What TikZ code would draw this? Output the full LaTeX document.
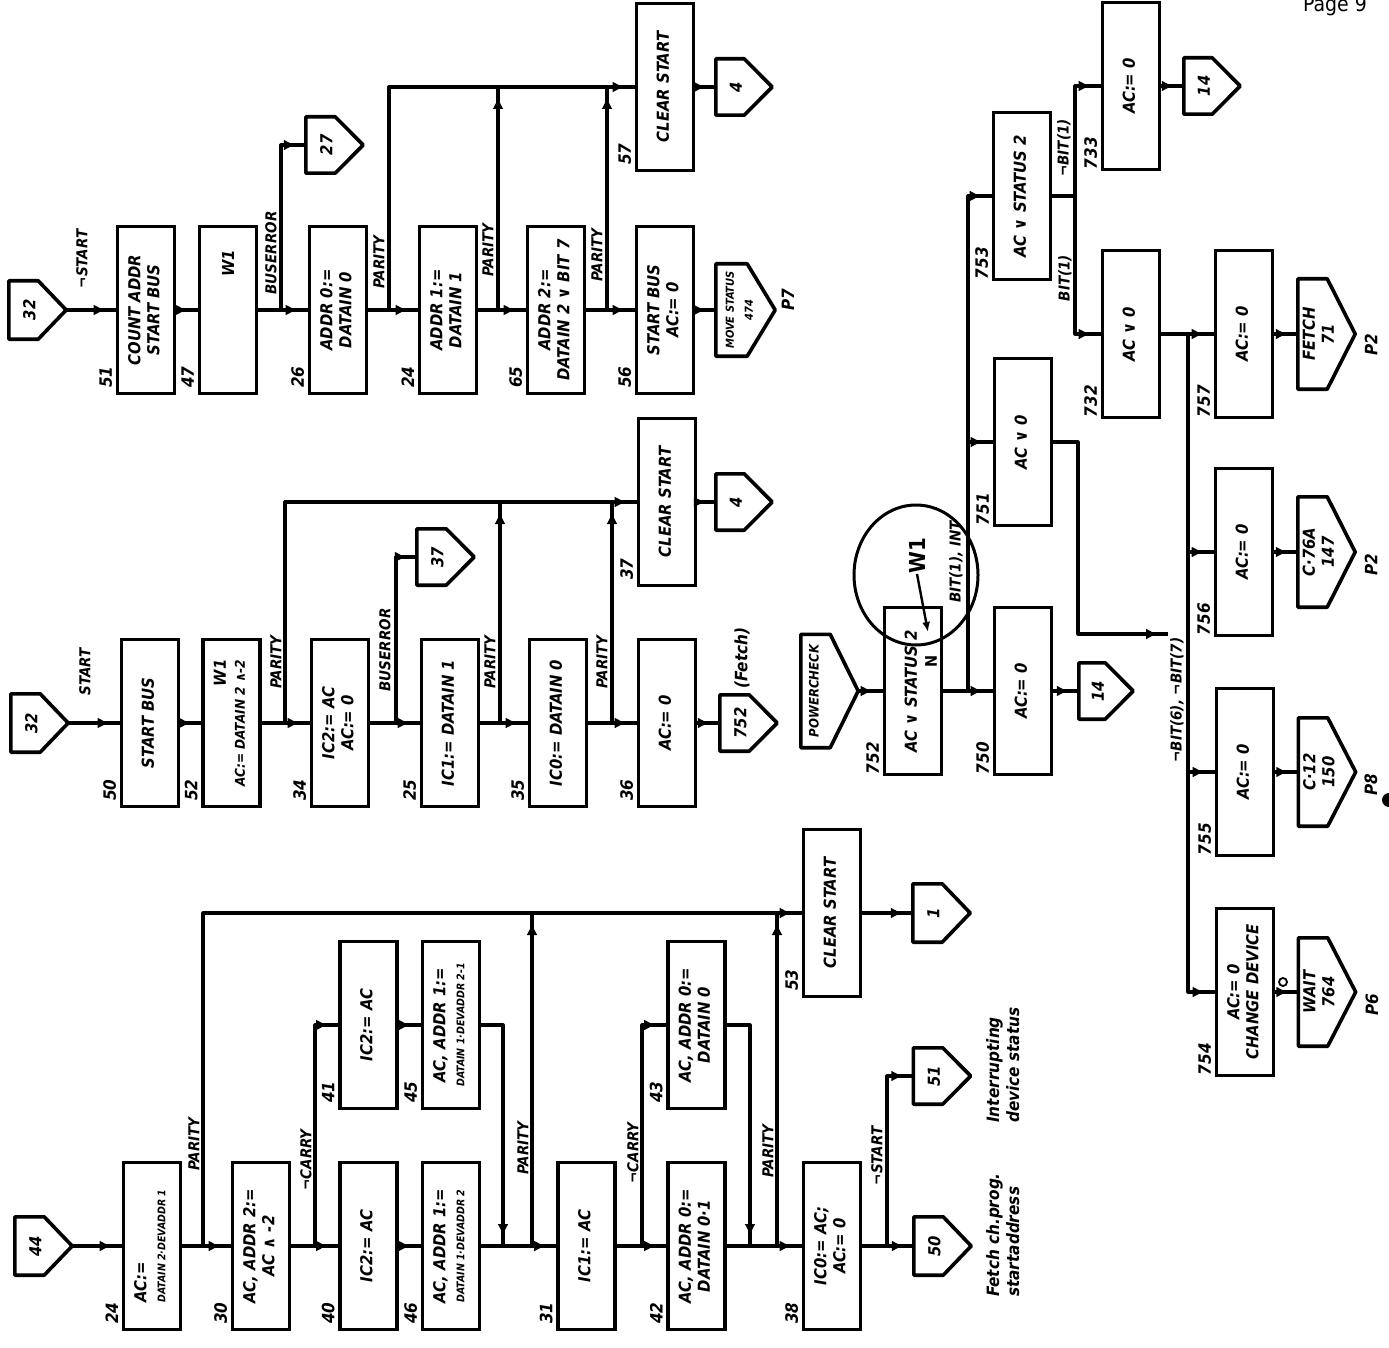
\documentclass[tikz,border=0pt]{standalone}
\usepackage{graphicx}
\usepackage{fontspec}
\setmainfont{DejaVu Sans Condensed}
\usetikzlibrary{arrows.meta,decorations.markings}
\newcommand{\boxfont}{\fontsize{16.5}{19}\selectfont\bfseries\itshape}
\newcommand{\numfont}{\fontsize{17}{19}\selectfont\bfseries\itshape}
\newcommand{\lblfont}{\fontsize{15}{17}\selectfont\bfseries\itshape}
\newcommand{\notefont}{\fontsize{17}{20}\selectfont\bfseries\itshape}
\newcommand{\tinyfont}{\fontsize{10.5}{12}\selectfont}
\newcommand{\rtext}[1]{\rotatebox{90}{\begin{tabular}{@{}c@{}}#1\end{tabular}}}
\tikzset{
  ln/.style={line width=3.2pt, line join=round},
  boxline/.style={line width=3.6pt, line join=round},
  blk/.style={draw, line width=3.6pt, rectangle, inner sep=0pt, minimum width=57pt, minimum height=167pt, font=\boxfont},
  pentbase/.style={inner sep=0pt, draw=none, rectangle},
  flow/.style={ln, postaction={decorate}, decoration={markings, mark=at position -10pt with {\arrow{Latex[length=12pt,width=11pt]}}}},
  num/.style={font=\numfont, inner sep=0pt},
  lbl/.style={font=\lblfont, inner sep=0pt},
  note/.style={font=\notefont, inner sep=0pt},
}
\newcommand{\pent}[6]{%
  \node[pentbase, minimum width=#4pt, minimum height=#5pt] (#1) at (#2,#3) {};
  \draw[boxline] (#1.north west) -- ([xshift=-28pt]#1.north east) -- (#1.east) -- ([xshift=-28pt]#1.south east) -- (#1.south west) -- cycle;
  \node[font=\boxfont, inner sep=0pt] at ([xshift=-6pt]#1.center) {\rtext{#6}};
}
\newcommand{\boxlab}[2]{\node[num] at ([xshift=-10pt,yshift=18pt]#1.south west) {\rotatebox{90}{#2}};}
\begin{document}
\begin{tikzpicture}[x=1pt,y=-1pt]
\useasboundingbox (0,0) rectangle (1389,1348);
\fill[white] (0,0) rectangle (1389,1348);

%% ---------------- Section 1 ----------------
\pent{p32a}{37.5}{310}{57}{58}{32}
\node[blk] (n51) at (146,310) {\rtext{COUNT ADDR\\START BUS}};
\node[blk] (n47) at (228,310) {\rotatebox{90}{\parbox{120pt}{\raggedleft W1}}};
\pent{p27}{334.5}{145}{57}{56}{27}
\node[blk] (n26) at (338,310) {\rtext{ADDR 0:=\\DATAIN 0}};
\node[blk] (n24) at (448,310) {\rtext{ADDR 1:=\\DATAIN 1}};
\node[blk] (n65) at (556,310) {\rtext{ADDR 2:=\\DATAIN 2 ∨ BIT 7}};
\node[blk] (n56) at (665,310) {\rtext{START BUS\\AC:= 0}};
\pent{pmove}{745.5}{310}{59}{92}{{\fontsize{11}{13}\selectfont MOVE STATUS}\\{\fontsize{11}{13}\selectfont 474}}
\node[blk] (n57) at (665,87) {\rtext{CLEAR START}};
\pent{p4a}{744}{87}{56}{56}{4}

\coordinate (j1a) at (281,310);
\coordinate (j1b) at (389,310);
\coordinate (j1c) at (498,310);
\coordinate (j1d) at (607,310);
\coordinate (t1c) at (498,87);
\coordinate (t1d) at (607,87);
\draw[flow] (p32a.east) -- (n51.west);
\draw[flow] (n51.east) -- (n47.west);
\draw[flow] (n47.east) -- (n26.west);
\draw[flow] (j1a) |- (p27.west);
\draw[flow] (n26.east) -- (n24.west);
\draw[flow] (j1b) |- (n57.west);
\draw[flow] (n24.east) -- (n65.west);
\draw[flow] (j1c) -- (t1c);
\draw[flow] (n65.east) -- (n56.west);
\draw[flow] (j1d) -- (t1d);
\draw[flow] (n56.east) -- (pmove.west);
\draw[flow] (n57.east) -- (p4a.west);

\boxlab{n51}{51}\boxlab{n47}{47}\boxlab{n26}{26}\boxlab{n24}{24}
\boxlab{n65}{65}\boxlab{n56}{56}\boxlab{n57}{57}
\node[lbl] at (82,259) {\rotatebox{90}{¬START}};
\node[lbl] at (271,253) {\rotatebox{90}{BUSERROR}};
\node[lbl] at (379,262) {\rotatebox{90}{PARITY}};
\node[lbl] at (488,250) {\rotatebox{90}{PARITY}};
\node[lbl] at (597,255) {\rotatebox{90}{PARITY}};
\node[num] at (788,300) {\rotatebox{90}{P7}};

%% ---------------- Section 2 ----------------
\pent{p32b}{39.5}{723}{57}{58}{32}
\node[blk] (n50) at (150,723) {\rtext{START BUS}};
\node[blk] (n52) at (231.5,723) {\rotatebox{90}{\begin{tabular}{@{}r@{}}W1\\{\fontsize{13.5}{15}\selectfont AC:= DATAIN 2 ∧-2}\end{tabular}}};
\node[blk] (n34) at (340,723) {\rtext{IC2:= AC\\AC:= 0}};
\pent{p37}{445.5}{557}{57}{56}{37}
\node[blk] (n25) at (450,723) {\rtext{IC1:= DATAIN 1}};
\node[blk] (n35) at (558,723) {\rtext{IC0:= DATAIN 0}};
\node[blk] (n36) at (667,723) {\rtext{AC:= 0}};
\pent{p752}{748.5}{723}{57}{56}{752}
\node[blk] (n37) at (667,502) {\rtext{CLEAR START}};
\pent{p4b}{744}{502}{56}{56}{4}

\coordinate (j2a) at (285,723);
\coordinate (j2b) at (396,723);
\coordinate (j2c) at (500,723);
\coordinate (j2d) at (612,723);
\coordinate (t2c) at (500,502);
\coordinate (t2d) at (612,502);
\draw[flow] (p32b.east) -- (n50.west);
\draw[flow] (n50.east) -- (n52.west);
\draw[flow] (n52.east) -- (n34.west);
\draw[flow] (j2a) |- (n37.west);
\draw[flow] (n34.east) -- (n25.west);
\draw[flow] (j2b) |- (p37.west);
\draw[flow] (n25.east) -- (n35.west);
\draw[flow] (j2c) -- (t2c);
\draw[flow] (n35.east) -- (n36.west);
\draw[flow] (j2d) -- (t2d);
\draw[flow] (n36.east) -- (p752.west);
\draw[flow] (n37.east) -- (p4b.west);

\boxlab{n50}{50}\boxlab{n52}{52}\boxlab{n34}{34}\boxlab{n25}{25}
\boxlab{n35}{35}\boxlab{n36}{36}\boxlab{n37}{37}
\node[lbl] at (85,672) {\rotatebox{90}{START}};
\node[lbl] at (276,662) {\rotatebox{90}{PARITY}};
\node[lbl] at (385,650) {\rotatebox{90}{BUSERROR}};
\node[lbl] at (490,662) {\rotatebox{90}{PARITY}};
\node[lbl] at (602,662) {\rotatebox{90}{PARITY}};
\node[note] at (742,658) {\rotatebox{90}{(Fetch)}};

%% ---------------- Section 3 ----------------
\pent{p44}{43.5}{1246}{57}{58}{44}
\node[blk] (n24c) at (152,1246) {\rotatebox{90}{\begin{tabular}{@{}l@{}}AC:=\\{\tinyfont DATAIN 2·DEVADDR 1}\end{tabular}}};
\node[blk] (n30) at (261,1246) {\rtext{AC, ADDR 2:=\\AC ∧ -2}};
\node[blk] (n40) at (368.5,1246) {\rtext{IC2:= AC}};
\node[blk] (n41) at (368.5,1025) {\rtext{IC2:= AC}};
\node[blk] (n46) at (451,1246) {\rtext{AC, ADDR 1:=\\{\tinyfont DATAIN 1·DEVADDR 2}}};
\node[blk] (n45) at (451,1025) {\rtext{AC, ADDR 1:=\\{\tinyfont DATAIN 1·DEVADDR 2-1}}};
\node[blk] (n31) at (586.5,1246) {\rtext{IC1:= AC}};
\node[blk] (n42) at (696.5,1246) {\rtext{AC, ADDR 0:=\\DATAIN 0·1}};
\node[blk] (n43) at (696.5,1025) {\rtext{AC, ADDR 0:=\\DATAIN 0}};
\node[blk] (n38) at (832,1246) {\rtext{IC0:= AC;\\AC:= 0}};
\node[blk] (n53) at (832,913) {\rtext{CLEAR START}};
\pent{p1}{941.5}{913}{57}{58}{1}
\pent{p50}{942.5}{1246}{57}{58}{50}
\pent{p51}{942}{1076}{57}{56}{51}

\coordinate (j3a) at (203,1246);
\coordinate (j3b) at (315,1246);
\coordinate (j3c) at (503,1246);
\coordinate (j3d) at (532,1246);
\coordinate (j3e) at (642,1246);
\coordinate (j3f) at (750,1246);
\coordinate (j3g) at (777,1246);
\coordinate (j3h) at (887,1246);
\coordinate (t3d) at (532,913);
\coordinate (t3g) at (777,913);
\draw[flow] (p44.east) -- (n24c.west);
\draw[flow] (n24c.east) -- (n30.west);
\draw[flow] (j3a) |- (n53.west);
\draw[flow] (n30.east) -- (n40.west);
\draw[flow] (j3b) |- (n41.west);
\draw[flow] (n40.east) -- (n46.west);
\draw[flow] (n41.east) -- (n45.west);
\draw[flow] (n45.east) -| (j3c);
\draw[flow] (j3d) -- (t3d);
\draw[flow] (n46.east) -- (n31.west);
\draw[flow] (n31.east) -- (n42.west);
\draw[flow] (j3e) |- (n43.west);
\draw[flow] (n43.east) -| (j3f);
\draw[flow] (j3g) -- (t3g);
\draw[flow] (n42.east) -- (n38.west);
\draw[flow] (n38.east) -- (p50.west);
\draw[flow] (j3h) |- (p51.west);
\draw[flow] (n53.east) -- (p1.west);

\boxlab{n24c}{24}\boxlab{n30}{30}\boxlab{n40}{40}\boxlab{n41}{41}
\boxlab{n46}{46}\boxlab{n45}{45}\boxlab{n31}{31}\boxlab{n42}{42}
\boxlab{n43}{43}\boxlab{n38}{38}\boxlab{n53}{53}
\node[lbl] at (194,1144) {\rotatebox{90}{PARITY}};
\node[lbl] at (306,1160) {\rotatebox{90}{¬CARRY}};
\node[lbl] at (523,1148) {\rotatebox{90}{PARITY}};
\node[lbl] at (633,1153) {\rotatebox{90}{¬CARRY}};
\node[lbl] at (768,1151) {\rotatebox{90}{PARITY}};
\node[lbl] at (877,1156) {\rotatebox{90}{¬START}};
\node[note] at (1005,1235) {\rotatebox{90}{\begin{tabular}{@{}l@{}}Fetch ch.prog.\\startaddress\end{tabular}}};
\node[note] at (1005,1065) {\rotatebox{90}{\begin{tabular}{@{}l@{}}Interrupting\\device status\end{tabular}}};

%% ---------------- Right section ----------------
\pent{ppow}{829.5}{691}{57}{113}{}
\node[font=\fontsize{13}{15}\selectfont\bfseries\itshape, inner sep=0pt] at (814,691) {\rotatebox{90}{POWERCHECK}};
\node[blk] (n752) at (913,691) {\rtext{AC ∨ STATUS 2}};
\node[blk] (n750) at (1023,691) {\rtext{AC:= 0}};
\pent{p14b}{1106}{691}{54}{56}{14}
\node[blk] (n751) at (1023,442) {\rtext{AC ∨ 0}};
\node[blk] (n753) at (1022,196) {\rtext{AC ∨ STATUS 2}};
\node[blk] (n733) at (1131,86) {\rtext{AC:= 0}};
\pent{p14a}{1212}{86}{56}{56}{14}
\node[blk] (n732) at (1131,334) {\rtext{AC ∨ 0}};
\node[blk] (n757) at (1244,334) {\rtext{AC:= 0}};
\pent{pfetch}{1326.5}{334}{57}{110}{FETCH\\71}
\node[blk] (n756) at (1244,552) {\rtext{AC:= 0}};
\pent{pc76}{1326.5}{552}{57}{110}{C·76A\\147}
\node[blk] (n755) at (1245,772) {\rtext{AC:= 0}};
\pent{pc12}{1327}{772}{57}{108}{C·12\\150}
\node[blk] (n754) at (1245,992) {\rtext{AC:= 0\\CHANGE DEVICE}};
\pent{pwait}{1327}{992}{57}{108}{WAIT\\764}

\coordinate (j4a) at (968,691);
\coordinate (j4b) at (968,442);
\coordinate (j4c) at (1075,196);
\coordinate (j4d) at (1188,334);
\coordinate (j4f) at (1188,552);
\coordinate (j4g) at (1188,772);
\coordinate (c4a) at (1078,634);
\coordinate (j4e) at (1168,634);
\draw[flow] (ppow.east) -- (n752.west);
\draw[flow] (n752.east) -- (n750.west);
\draw[flow] (n750.east) -- (p14b.west);
\draw[flow] (j4a) |- (n753.west);
\draw[flow] (j4b) -- (n751.west);
\draw[flow] (n751.east) -| (c4a) -- (j4e);
\draw[ln] (n753.east) -- (j4c);
\draw[flow] (j4c) |- (n733.west);
\draw[flow] (j4c) |- (n732.west);
\draw[flow] (n733.east) -- (p14a.west);
\draw[flow] (n732.east) -- (n757.west);
\draw[flow] (j4d) |- (n754.west);
\draw[flow] (j4f) -- (n756.west);
\draw[flow] (j4g) -- (n755.west);
\draw[flow] (n757.east) -- (pfetch.west);
\draw[flow] (n756.east) -- (pc76.west);
\draw[flow] (n755.east) -- (pc12.west);
\draw[flow] (n754.east) -- (pwait.west);

\boxlab{n752}{752}\boxlab{n750}{750}\boxlab{n751}{751}\boxlab{n753}{753}
\boxlab{n733}{733}\boxlab{n732}{732}\boxlab{n757}{757}\boxlab{n756}{756}
\boxlab{n755}{755}\boxlab{n754}{754}
\node[lbl] at (1064,148) {\rotatebox{90}{¬BIT(1)}};
\node[lbl] at (1065,278) {\rotatebox{90}{BIT(1)}};
\node[lbl] at (1177,700) {\rotatebox{90}{¬BIT(6), ¬BIT(7)}};
\node[lbl] at (956,562) {\rotatebox{90}{BIT(1), INT}};
\node[num] at (1371,345) {\rotatebox{90}{P2}};
\node[num] at (1371,565) {\rotatebox{90}{P2}};
\node[num] at (1371,785) {\rotatebox{90}{P8}};
\node[num] at (1372,1005) {\rotatebox{90}{P6}};

%% hand annotations
\draw[line width=3pt] (916,575) ellipse [x radius=62pt, y radius=70pt];
\node[font=\fontsize{22}{24}\selectfont\bfseries, inner sep=0pt] (w1) at (917,556) {\rotatebox{90}{W1}};
\coordinate (w1end) at (928,632);
\draw[line width=2.4pt, -{Latex[length=10pt,width=8pt]}] (w1.south) -- (w1end);
\node[font=\fontsize{16}{18}\selectfont\bfseries, inner sep=0pt] at (931,661) {\rotatebox{90}{N}};
\draw[line width=1.8pt] (1283,982) circle [radius=4pt];
\fill (1389,800) circle [radius=7pt];
\node[font=\fontsize{21}{23}\selectfont, inner sep=0pt] at (1335,6) {Page 9};
\end{tikzpicture}
\end{document}
